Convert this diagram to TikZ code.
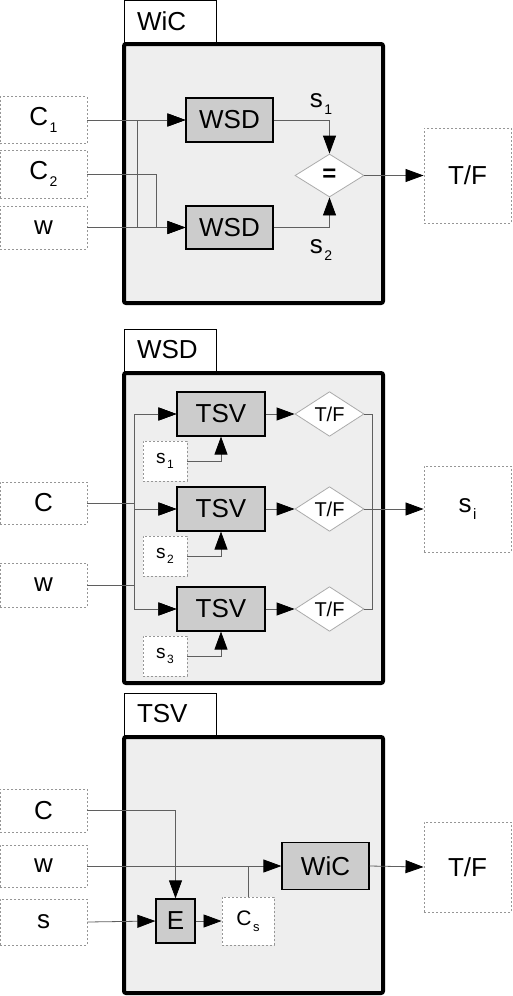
\documentclass[tikz,border=0pt]{standalone}
\usepackage{fontspec}
\setmainfont{Liberation Sans}
\usepackage{tikz}
\usetikzlibrary{arrows.meta,positioning,shapes.geometric}
\usepackage{xcolor}
\definecolor{ink}{RGB}{0,0,0}
\definecolor{panel}{RGB}{238,238,238}
\definecolor{blockfill}{RGB}{204,204,204}
\definecolor{dashgray}{RGB}{150,150,150}
\definecolor{wiregray}{RGB}{95,95,95}
\newcommand{\fbig}{\fontsize{26}{30}\selectfont}
\newcommand{\idx}[2][14]{\kern1.5pt\raisebox{-0.3em}{\fontsize{#1}{#1}\selectfont #2}}
\tikzset{
  frame/.style={draw=ink,line width=4pt,rounded corners=2pt,fill=panel,outer sep=0pt},
  tabbox/.style={draw=ink,line width=1pt,fill=white,outer sep=0pt,inner xsep=13pt,
    text width=66pt,minimum height=42pt,align=left,font=\fbig},
  blk/.style={draw=ink,line width=1.2pt,fill=blockfill,inner sep=0pt,font=\fbig},
  inbox/.style={draw=dashgray,dash pattern=on 2pt off 2pt,line width=0.9pt,fill=white,
    inner sep=0pt,minimum width=87pt,font=\fbig},
  cmp/.style={diamond,draw=dashgray!80,fill=white,line width=0.8pt,inner sep=0pt,
    minimum width=69pt,minimum height=44pt},
  arr/.style={-{Triangle[length=18pt,width=13pt,color=ink]},line width=0.8pt,draw=wiregray},
  wire/.style={line width=0.8pt,draw=wiregray},
  lbl/.style={inner sep=0pt,font=\fbig},
}

\begin{document}
\begin{tikzpicture}[x=1pt,y=-1pt]
  \useasboundingbox (0,0) rectangle (512,996);

  % WiC: two WSD runs compared
  \node[frame,minimum width=259pt,minimum height=259pt] (wicF) at (253.5,173.5) {};
  \node[tabbox,above right=2pt and 0pt of wicF.north west] (wicT) {WiC};
  \node[inbox,minimum height=47pt] (c1In) at (43.5,120) {C\idx{1}};
  \node[inbox,minimum height=48pt] (c2In) at (43.5,174) {C\idx{2}};
  \node[inbox,minimum height=43pt] (wIn) at (43.5,227.5) {w};
  \node[blk,minimum width=87pt,minimum height=44pt] (wsdA) at (229.5,120) {WSD};
  \node[blk,minimum width=87pt,minimum height=43pt] (wsdB) at (229.5,227.5) {WSD};
  \node[cmp,minimum height=43pt,font=\fontsize{24}{24}\selectfont\bfseries] (eqD) at (329.5,175.5) {=};
  \node[inbox,minimum height=95pt] (tfOut) at (467.5,175.5) {T/F};
  \node[lbl] (s1L) at (321,104) {s\idx{1}};
  \node[lbl] (s2L) at (321,250) {s\idx{2}};
  \coordinate (jW) at (137,0);
  \coordinate (jC) at (156,0);

  \draw[arr] (c1In.east) -- (wsdA.west);
  \draw[arr] (wIn.east) -- (wIn.east -| jW) |- (wsdA.west);
  \draw[arr] (c2In.east) -- (c2In.east -| jC) |- (wsdB.west);
  \draw[arr] (wIn.east) -- (wsdB.west);
  \draw[arr] (wsdA.east) -| (eqD.north);
  \draw[arr] (wsdB.east) -| (eqD.south);
  \draw[arr] (eqD.east) -- (tfOut.west);

  % WSD: one TSV check per sense
  \node[frame,minimum width=259pt,minimum height=310pt] (wsdF) at (253.5,528) {};
  \node[tabbox,above right=2pt and 0pt of wsdF.north west] (wsdT) {WSD};
  \node[inbox,minimum height=42pt] (cIn2) at (43.5,503) {C};
  \node[inbox,minimum height=44pt] (wIn2) at (43.5,585) {w};
  \node[inbox,minimum height=86pt] (siOut) at (467.5,509) {s\idx[15]{i}};
  \coordinate (jIn) at (134,0);
  \coordinate (jOut) at (372,509);
  \foreach \n/\k/\y in {A/1/414,B/2/509,C/3/609}{
    \node[blk,minimum width=88pt,minimum height=44pt] (tsv\n) at (221,\y) {TSV};
    \node[cmp,font=\fontsize{20}{20}\selectfont] (tf\n) at (329.5,\y) {T/F};
    \node[inbox,minimum width=44pt,minimum height=40pt,font=\fontsize{19}{22}\selectfont]
      (sb\n) at (165,{\y+47}) {s\idx[12]{\k}};
    \draw[arr] (cIn2.east) -- (cIn2.east -| jIn) |- (tsv\n.west);
    \draw[arr] (wIn2.east) -- (wIn2.east -| jIn) |- (tsv\n.west);
    \draw[arr] (sb\n.east) -| (tsv\n.south);
    \draw[arr] (tsv\n.east) -- (tf\n.west);
    \draw[wire] (tf\n.east) -| (jOut);
  }
  \draw[arr] (jOut) -- (siOut.west);

  % TSV: sense gloss fed back into WiC
  \node[frame,minimum width=259pt,minimum height=256pt] (tsvF) at (253.5,865) {};
  \node[tabbox,above right=2pt and 0pt of tsvF.north west] (tsvT) {TSV};
  \node[inbox,minimum height=43pt] (cIn3) at (43.5,810.5) {C};
  \node[inbox,minimum height=42pt] (wIn3) at (43.5,866) {w};
  \node[inbox,minimum height=46pt] (sIn3) at (43.5,922) {s};
  \node[blk,minimum width=39pt,minimum height=44pt] (eBlk) at (175.5,921) {E};
  \node[inbox,minimum width=52pt,minimum height=48pt,font=\fontsize{21}{24}\selectfont]
    (csBox) at (248,921) {C\idx[13]{s}};
  \node[blk,minimum width=87pt,minimum height=47pt] (wicBlk) at (325.5,866) {WiC};
  \node[inbox,minimum height=90pt] (tfOut3) at (467.5,867) {T/F};

  \draw[arr] (cIn3.east) -| (eBlk.north);
  \draw[arr] (wIn3.east) -- (wicBlk.west);
  \draw[arr] (sIn3.east) -- (eBlk.west);
  \draw[arr] (eBlk.east) -- (csBox.west);
  \draw[wire] (csBox.north) -- (csBox.north |- wicBlk.west);
  \draw[arr] (wicBlk.east) -- (tfOut3.west);
\end{tikzpicture}
\end{document}
